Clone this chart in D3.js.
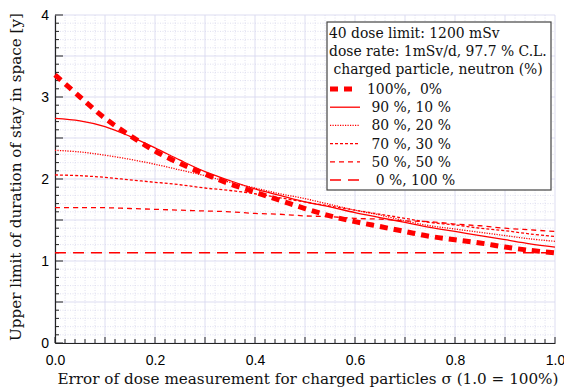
<!DOCTYPE html>
<html>
<head>
<meta charset="utf-8">
<script src="https://cdn.jsdelivr.net/npm/d3@7"></script>
<style>
  body { margin: 0; background: #fff; }
  .tick text { font-family: "Liberation Sans", Arial, sans-serif; font-size: 14px; fill: #000; }
  .title { font-family: "DejaVu Serif", serif; font-size: 15.2px; fill: #111; }
  .leg { font-family: "DejaVu Serif", serif; font-size: 13.9px; fill: #111; }
</style>
</head>
<body>
<svg width="564" height="389"></svg>
<script>
const sigma = [0, 0.05, 0.1, 0.15, 0.2, 0.25, 0.3, 0.35, 0.4, 0.45, 0.5,
               0.55, 0.6, 0.65, 0.7, 0.75, 0.8, 0.85, 0.9, 0.95, 1.0];

const s100 = [3.27, 3.00, 2.74, 2.53, 2.34, 2.19, 2.06, 1.94, 1.84, 1.74, 1.64,
              1.55, 1.48, 1.42, 1.36, 1.30, 1.26, 1.22, 1.17, 1.13, 1.10];
const s90 = [2.74, 2.71, 2.64, 2.52, 2.38, 2.23, 2.09, 1.98, 1.88, 1.80, 1.72,
             1.66, 1.59, 1.53, 1.47, 1.41, 1.36, 1.31, 1.26, 1.21, 1.17];
const s80 = [2.35, 2.33, 2.29, 2.24, 2.18, 2.11, 2.04, 1.96, 1.89, 1.82, 1.76,
             1.69, 1.62, 1.56, 1.49, 1.43, 1.39, 1.35, 1.31, 1.27, 1.24];
const s70 = [2.05, 2.04, 2.02, 1.99, 1.96, 1.93, 1.89, 1.86, 1.82, 1.77, 1.72,
             1.67, 1.62, 1.57, 1.52, 1.47, 1.44, 1.40, 1.37, 1.33, 1.30];
const s50 = [1.65, 1.65, 1.65, 1.64, 1.63, 1.62, 1.61, 1.60, 1.58, 1.57, 1.55,
             1.54, 1.52, 1.51, 1.49, 1.48, 1.45, 1.43, 1.40, 1.38, 1.36];
const s0 = [1.10, 1.10, 1.10, 1.10, 1.10, 1.10, 1.10, 1.10, 1.10, 1.10, 1.10,
            1.10, 1.10, 1.10, 1.10, 1.10, 1.10, 1.10, 1.10, 1.10, 1.10];

const legendHeader = ['40 dose limit: 1200 mSv', 'dose rate: 1mSv/d, 97.7 % C.L.', ' charged particle, neutron (%)'];
const legendLabels = ['100%,  0%', ' 90 %, 10 %', ' 80 %, 20 %', ' 70 %, 30 %', ' 50 %, 50 %', '  0 %, 100 %'];

const xTicks = [0, 0.2, 0.4, 0.6, 0.8, 1.0];
const yTicks = [0, 1, 2, 3, 4];

const series = [
  { values: s100, width: 5, dash: '8,6' },
  { values: s90, width: 1.3, dash: null },
  { values: s80, width: 1.3, dash: '1.2,1.3' },
  { values: s70, width: 1.3, dash: '3,2' },
  { values: s50, width: 1.3, dash: '5,4' },
  { values: s0, width: 1.5, dash: '11,7' }
];

const svg = d3.select('svg');
const margin = { top: 15, right: 9, bottom: 46, left: 55 };
const width = 564 - margin.left - margin.right;
const height = 389 - margin.top - margin.bottom;

const chart = svg.append('g')
  .attr('transform', `translate(${margin.left}, ${margin.top})`);

const xScale = d3.scaleLinear().domain([0, 1]).range([0, width]);
const yScale = d3.scaleLinear().domain([0, 4]).range([height, 0]);

// grid
const minorX = d3.range(0, 1.0001, 0.02);
const minorY = d3.range(0, 4.0001, 0.1);
const grid = chart.append('g').attr('class', 'grid');
grid.selectAll('.gx').data(minorX).enter().append('line')
  .attr('x1', d => xScale(d)).attr('x2', d => xScale(d))
  .attr('y1', 0).attr('y2', height)
  .attr('stroke', (d, i) => i % 5 === 0 ? '#d4d4ee' : '#d8d8ec')
  .attr('stroke-dasharray', (d, i) => i % 5 === 0 ? null : '1,1.5')
  .attr('stroke-width', 0.8);
grid.selectAll('.gy').data(minorY).enter().append('line')
  .attr('x1', 0).attr('x2', width)
  .attr('y1', d => yScale(d)).attr('y2', d => yScale(d))
  .attr('stroke', (d, i) => i % 5 === 0 ? '#d4d4ee' : '#d8d8ec')
  .attr('stroke-dasharray', (d, i) => i % 5 === 0 ? null : '1,1.5')
  .attr('stroke-width', 0.8);

// axes with inward ticks
const xAxis = chart.append('g')
  .attr('transform', `translate(0, ${height})`)
  .call(d3.axisBottom(xScale).tickValues(xTicks).tickFormat(d3.format('.1f')).tickSize(0).tickPadding(9));
xAxis.select('.domain').attr('stroke', '#222').attr('stroke-width', 1.2);
xAxis.selectAll('.tick text').attr('dy', '0.9em');

const yAxis = chart.append('g')
  .call(d3.axisLeft(yScale).tickValues(yTicks).tickFormat(d3.format('d')).tickSize(0).tickPadding(6));
yAxis.select('.domain').attr('stroke', '#222').attr('stroke-width', 1.2);

chart.append('g').selectAll('line').data(minorX).enter().append('line')
  .attr('x1', d => xScale(d)).attr('x2', d => xScale(d))
  .attr('y1', height).attr('y2', (d, i) => height - (i % 5 === 0 ? 6 : 4))
  .attr('stroke', '#222').attr('stroke-width', 1);
chart.append('g').selectAll('line').data(minorY).enter().append('line')
  .attr('x1', 0).attr('x2', (d, i) => (i % 5 === 0 ? 8 : 4))
  .attr('y1', d => yScale(d)).attr('y2', d => yScale(d))
  .attr('stroke', '#222').attr('stroke-width', 1);

// curves
const line = d3.line()
  .x((d, i) => xScale(sigma[i]))
  .y(d => yScale(d))
  .curve(d3.curveCatmullRom);

series.slice().reverse().forEach(s => {
  chart.append('path')
    .datum(s.values)
    .attr('fill', 'none')
    .attr('stroke', '#ff0000')
    .attr('stroke-width', s.width)
    .attr('stroke-dasharray', s.dash)
    .attr('d', line);
});

// legend
const lg = svg.append('g').attr('transform', 'translate(327, 22)');
lg.append('rect')
  .attr('width', 224).attr('height', 168)
  .attr('fill', '#fff').attr('stroke', '#444').attr('stroke-width', 1.2);
legendHeader.forEach((t, i) => {
  lg.append('text').attr('class', 'leg')
    .attr('x', 2).attr('y', 16 + i * 18.2)
    .style('white-space', 'pre')
    .text(t);
});
series.forEach((s, i) => {
  const y = 67 + i * 18.2;
  lg.append('line')
    .attr('x1', 3).attr('x2', s.width > 3 ? 31 : 33)
    .attr('y1', y).attr('y2', y)
    .attr('stroke', '#ff0000')
    .attr('stroke-width', s.width)
    .attr('stroke-dasharray', s.dash);
  lg.append('text').attr('class', 'leg')
    .attr('x', 40).attr('y', y + 5)
    .style('white-space', 'pre')
    .text(legendLabels[i]);
});

// axis titles
svg.append('text').attr('class', 'title')
  .attr('x', margin.left + width / 2 + 3).attr('y', 384)
  .attr('text-anchor', 'middle')
  .text('Error of dose measurement for charged particles σ (1.0 = 100%)');

svg.append('text').attr('class', 'title')
  .attr('transform', `translate(21, ${margin.top + height / 2 - 2}) rotate(-90)`)
  .attr('text-anchor', 'middle')
  .text('Upper limit of duration of stay in space [y]');
</script>
</body>
</html>
